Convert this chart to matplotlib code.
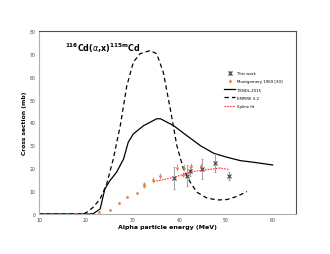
import matplotlib
matplotlib.use("Agg")
import matplotlib.pyplot as plt

# TENDL-2015 (solid)
tendl_E = [10, 15, 20, 21.6, 23.1, 24.1, 25.2, 26.6, 28.1, 29.1, 30.2, 32.4, 35.2, 36.0, 38.8, 41.6, 44.5, 47.4, 50.2, 53.1, 55.9, 60.0]
tendl_s = [0, 0, 0, 0.1, 2.2, 10.9, 14.6, 18.2, 24.0, 31.3, 35.0, 38.6, 41.6, 41.6, 38.6, 34.3, 29.9, 26.5, 24.8, 23.3, 22.6, 21.4]
# EMPIRE 3.2 (dashed)
emp_E = [10, 15, 19.5, 20.2, 21.6, 23.1, 24.5, 25.9, 27.4, 28.8, 30.2, 31.6, 33.8, 35.2, 36.6, 38.1, 39.5, 40.9, 42.4, 43.8, 45.9, 48.1, 50.2, 52.4, 54.5]
emp_s = [0, 0, 0, 0.7, 2.9, 6.6, 13.1, 24.0, 38.6, 56.0, 66.3, 70.0, 71.4, 70.0, 62.0, 45.9, 29.9, 19.7, 13.8, 9.5, 7.0, 6.1, 6.3, 7.7, 9.8]
# Montgomery 1969
mont_E = [17.9, 20.4, 22.8, 25.1, 27.1, 28.9, 30.9, 32.4, 32.5, 34.3, 36.0, 39.6, 40.9, 41.1, 42.4, 42.6, 44.6]
mont_s = [0, 0, 0.7, 1.9, 4.8, 7.3, 9.3, 13.1, 12.1, 14.9, 16.6, 20.3, 17.2, 20.3, 18.5, 20.8, 20.8]
mont_err = [0, 0, 0, 0, 0, 0, 0, 0.8, 0.8, 1.2, 1.5, 1.6, 1.2, 1.6, 1.5, 1.6, 1.5]
# This work
tw_E = [38.8, 41.6, 42.4, 44.9, 47.6, 50.6]
tw_s = [15.6, 16.8, 18.6, 19.7, 22.2, 16.6]
tw_err = [4.9, 4.5, 2.0, 4.4, 3.8, 1.8]
# Spline fit
sp_E = [34.5, 36.5, 38.8, 40.5, 41.6, 43.0, 44.5, 46.0, 47.4, 48.8, 50.6]
sp_s = [14.2, 14.9, 16.0, 17.0, 17.9, 18.5, 19.0, 19.4, 19.7, 20.1, 19.4]

fig = plt.figure(figsize=(3.3, 2.55), dpi=100)
ax = fig.add_axes([0.118, 0.157, 0.779, 0.718])

ax.plot(tendl_E, tendl_s, color="black", lw=0.9, label="TENDL-2015", zorder=2)
ax.plot(emp_E, emp_s, color="black", lw=0.9, ls=(0, (3.5, 2.5)), label="EMPIRE 3.2", zorder=2)
ax.errorbar(tw_E, tw_s, yerr=tw_err, fmt="x", color="#404040", ms=2.5, mew=0.8,
            ecolor="#a0a0a0", elinewidth=0.7, capsize=1, capthick=0.5, label="This work", zorder=4)
ax.errorbar(mont_E, mont_s, yerr=mont_err, fmt="o", color="#f07f3c", ms=2.0, mew=0,
            ecolor="#a0a0a0", elinewidth=0.6, capsize=1, capthick=0.5, label="Montgomery 1969 [30]", zorder=3)
ax.plot(sp_E, sp_s, color="#ff3030", lw=0.8, ls=(0, (1.5, 1)), label="Spline fit", zorder=5)

ax.set_xlim(10, 65)
ax.set_ylim(0, 80)
ax.set_xticks([10, 20, 30, 40, 50, 60])
ax.set_yticks(range(0, 81, 10))
ax.tick_params(labelsize=3.3, length=0, pad=2.5, colors="#404040")
for s in ["left", "bottom"]:
    ax.spines[s].set_color("#b0b0b0")
    ax.spines[s].set_linewidth(0.8)
for s in ["top", "right"]:
    ax.spines[s].set_color("#505050")
    ax.spines[s].set_linewidth(0.8)

ax.set_xlabel("Alpha particle energy (MeV)", fontsize=4.5, fontweight="bold", labelpad=1)
ax.set_ylabel("Cross section (mb)", fontsize=4.3, fontweight="bold", labelpad=2)

ax.text(15.6, 72.8, r"$^{\mathbf{116}}$Cd($\alpha$,x)$^{\mathbf{115m}}$Cd", fontsize=5.8,
        fontweight="semibold", va="center", ha="left")

h, l = ax.get_legend_handles_labels()
order = [l.index(n) for n in ["This work", "Montgomery 1969 [30]", "TENDL-2015", "EMPIRE 3.2", "Spline fit"]]
ax.legend([h[i] for i in order], [l[i] for i in order], loc="upper left",
          bbox_to_anchor=(0.705, 0.80), fontsize=2.8, frameon=False, handlelength=3,
          labelspacing=1.1, handletextpad=0.3)

fig.savefig("out.png", dpi=100)
